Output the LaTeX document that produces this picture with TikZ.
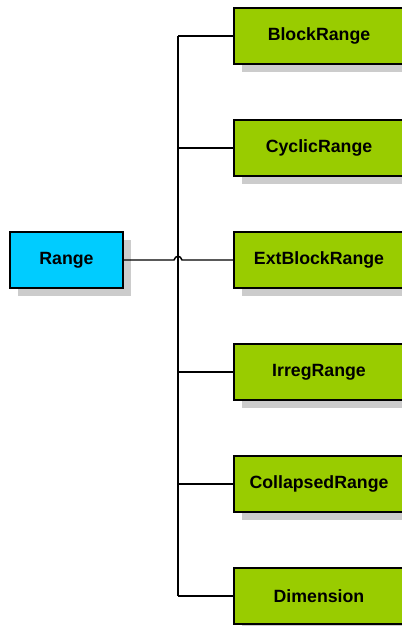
\documentclass[tikz,border=0pt]{standalone}
\usepackage{fontspec}
\setmainfont{Liberation Sans}
\usetikzlibrary{shadows, positioning}
\definecolor{rangecyan}{HTML}{00CCFF}
\definecolor{subgreen}{HTML}{99CC00}
\definecolor{shadowgray}{HTML}{CCCCCC}
\tikzstyle{basenode} = [rectangle, minimum height=42pt, align=center, draw=black, line width=1.5pt, font=\fontsize{13.3}{16}\selectfont\bfseries, drop shadow={shadow xshift=6pt, shadow yshift=-6pt, fill=shadowgray, opacity=1}]
\tikzstyle{mainnode} = [basenode, minimum width=84.75pt, fill=rangecyan]
\tikzstyle{subnode} = [basenode, minimum width=127.5pt, fill=subgreen]
\tikzstyle{connector} = [line width=1.1pt]

\begin{document}
\begin{tikzpicture}[x=0.75pt, y=-0.75pt]
  \useasboundingbox (0,0) rectangle (401,626);

  % Base class
  \node (range) at (66.5,260) [mainnode] {Range};

  % Subclasses
  \node (block) at (319,36) [subnode] {BlockRange};
  \node (cyclic) at (319,148) [subnode] {CyclicRange};
  \node (ext) at (319,260) [subnode] {ExtBlockRange};
  \node (irreg) at (319,372) [subnode] {IrregRange};
  \node (collapsed) at (319,484) [subnode] {CollapsedRange};
  \node (dim) at (319,596) [subnode] {Dimension};

  % Trunk
  \coordinate (top) at (178,36);
  \coordinate (bot) at (178,596);
  \coordinate (hopA) at (174,260);
  \coordinate (hopB) at (182,260);
  \draw[connector] (top) -- (bot);

  % Branches
  \foreach \n in {block, cyclic, irreg, collapsed, dim}
    \draw[connector] (\n.west) -- (\n.west -| top);

  % Range to ExtBlockRange, hopping over the trunk
  \draw[connector] (range.east) -- (hopA) .. controls (175.5,255) and (180.5,255) .. (hopB) -- (ext.west);

\end{tikzpicture}
\end{document}
